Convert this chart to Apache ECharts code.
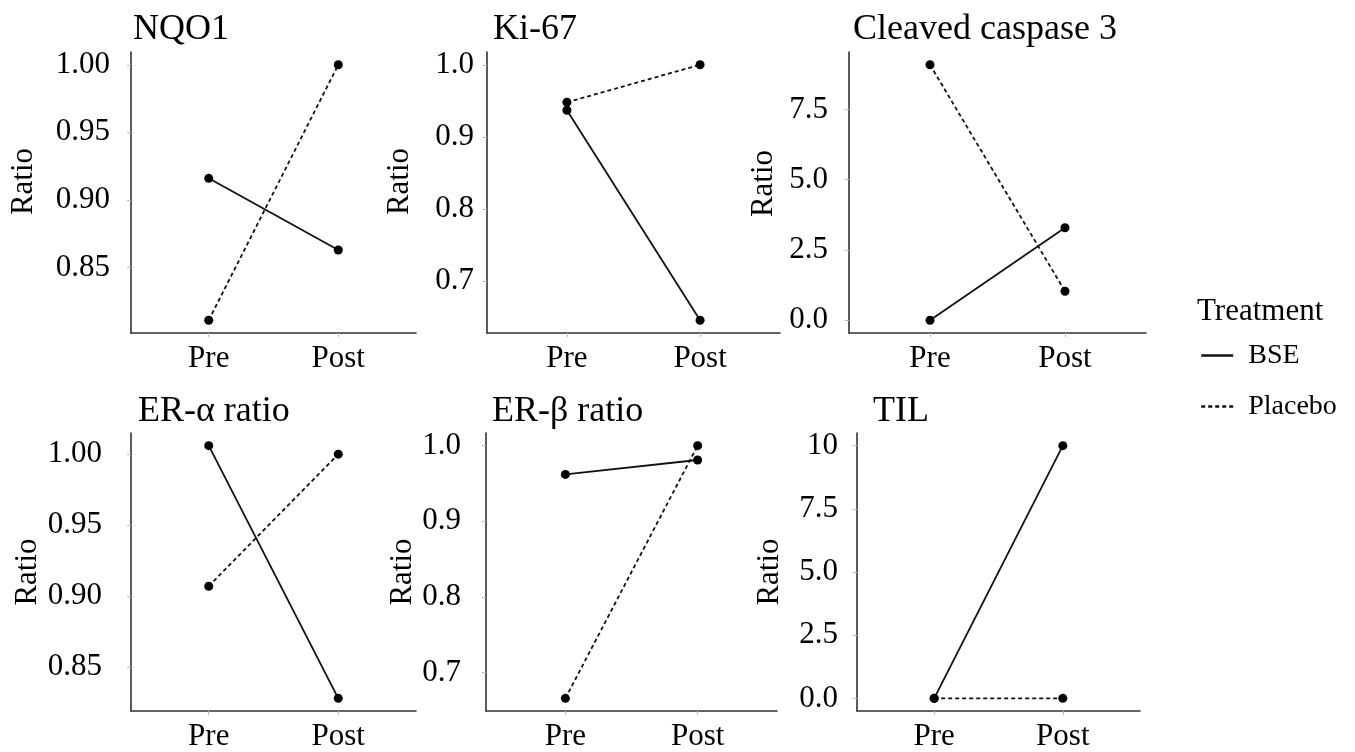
<!DOCTYPE html>
<html>
<head>
<meta charset="utf-8">
<script src="https://cdn.jsdelivr.net/npm/echarts@6/dist/echarts.min.js"></script>
<style>
html,body{margin:0;padding:0;background:#fff;}
#chart{width:1355px;height:752px;}
</style>
</head>
<body>
<div id="chart"></div>
<script>
const categories = ['Pre', 'Post'];
const panelTitles = ['NQO1', 'Ki-67', 'Cleaved caspase 3', 'ER-\u03b1 ratio', 'ER-\u03b2 ratio', 'TIL'];
const bseValues = [
  [0.916, 0.863],
  [0.937, 0.646],
  [0.0, 3.29],
  [1.006, 0.828],
  [0.962, 0.981],
  [0.0, 10.0]
];
const placeboValues = [
  [0.811, 1.0],
  [0.948, 1.0],
  [9.09, 1.03],
  [0.907, 1.0],
  [0.666, 1.0],
  [0.0, 0.0]
];
const yTickValues = [
  [0.85, 0.90, 0.95, 1.00],
  [0.7, 0.8, 0.9, 1.0],
  [0.0, 2.5, 5.0, 7.5],
  [0.85, 0.90, 0.95, 1.00],
  [0.7, 0.8, 0.9, 1.0],
  [0.0, 2.5, 5.0, 7.5, 10]
];
const yTickLabels = [
  ['0.85', '0.90', '0.95', '1.00'],
  ['0.7', '0.8', '0.9', '1.0'],
  ['0.0', '2.5', '5.0', '7.5'],
  ['0.85', '0.90', '0.95', '1.00'],
  ['0.7', '0.8', '0.9', '1.0'],
  ['0.0', '2.5', '5.0', '7.5', '10']
];
const seriesNames = ['BSE', 'Placebo'];
const legendTitle = 'Treatment';
const yAxisName = 'Ratio';

// layout (pixels)
const gridBoxes = [
  {left: 131, top: 52, width: 285, height: 281},
  {left: 487, top: 52, width: 293, height: 281},
  {left: 849, top: 52, width: 297, height: 281},
  {left: 131, top: 433, width: 285, height: 282},
  {left: 486, top: 433, width: 291, height: 282},
  {left: 857, top: 433, width: 283, height: 282}
];
const titlePos = [
  {left: 133, top: 12}, {left: 493, top: 12}, {left: 853, top: 12},
  {left: 138, top: 394}, {left: 492, top: 394}, {left: 873, top: 394}
];
const nameGaps = [92, 72, 70, 86, 66, 72];
const namePads = [[0, 0, 0, 22], [0, 0, 0, 22], [0, 0, 0, 18], [0, 0, 0, 0], [0, 0, 0, 0], [0, 0, 0, 0]];
const labelMargins = [21, 13, 21, 29, 25, 19];

const FONT = 'Liberation Serif';
const axisColor = '#333';

const grids = [], xAxes = [], yAxes = [], series = [], titles = [];
panelTitles.forEach((t, i) => {
  grids.push(Object.assign({}, gridBoxes[i]));
  titles.push({
    text: t, left: titlePos[i].left, top: titlePos[i].top, padding: 0,
    textStyle: {fontFamily: FONT, fontSize: 36, fontWeight: 'normal', color: '#000'}
  });
  const all = bseValues[i].concat(placeboValues[i]);
  const lo = Math.min.apply(null, all), hi = Math.max.apply(null, all);
  const pad = (hi - lo) * 0.05;
  xAxes.push({
    type: 'value', gridIndex: i, min: 0.4, max: 2.6,
    splitLine: {show: false},
    axisLine: {show: true, onZero: false, lineStyle: {color: axisColor, width: 1.6}},
    axisTick: {show: true, customValues: [1, 2], length: 4, lineStyle: {color: '#bbb', width: 1}},
    axisLabel: {
      customValues: [1, 2], margin: 10,
      formatter: v => categories[Math.round(v) - 1] || '',
      fontFamily: FONT, fontSize: 31, color: '#000'
    }
  });
  const tv = yTickValues[i], tl = yTickLabels[i];
  yAxes.push({
    type: 'value', gridIndex: i, min: lo - pad, max: hi + pad,
    splitLine: {show: false},
    name: yAxisName, nameLocation: 'middle', nameGap: nameGaps[i], nameRotate: 90,
    nameTextStyle: {fontFamily: FONT, fontSize: 31, color: '#000', padding: namePads[i]},
    axisLine: {show: true, onZero: false, lineStyle: {color: axisColor, width: 1.6}},
    axisTick: {show: true, customValues: tv, length: 4, lineStyle: {color: '#bbb', width: 1}},
    axisLabel: {
      customValues: tv, margin: labelMargins[i],
      formatter: v => {
        for (let k = 0; k < tv.length; k++) if (Math.abs(tv[k] - v) < 1e-9) return tl[k];
        return '';
      },
      fontFamily: FONT, fontSize: 31, color: '#000'
    }
  });
  [bseValues[i], placeboValues[i]].forEach((vals, s) => {
    series.push({
      name: seriesNames[s], type: 'line', xAxisIndex: i, yAxisIndex: i,
      data: vals.map((v, k) => [k + 1, v]),
      symbol: 'circle', symbolSize: 9, color: '#000',
      itemStyle: {color: '#000'},
      lineStyle: {color: '#111', width: 1.8, type: s === 0 ? 'solid' : [4, 3]},
      animation: false, silent: true, z: s === 0 ? 3 : 2
    });
  });
});

titles.push({
  text: legendTitle, left: 1197, top: 296, padding: 0,
  textStyle: {fontFamily: FONT, fontSize: 31, fontWeight: 'normal', color: '#000'}
});

const chart = echarts.init(document.getElementById('chart'), null, {renderer: 'canvas'});
chart.setOption({
  animation: false,
  backgroundColor: '#fff',
  title: titles,
  grid: grids,
  xAxis: xAxes,
  yAxis: yAxes,
  legend: {
    data: seriesNames,
    orient: 'vertical', left: 1200, top: 340, padding: 0,
    itemWidth: 32, itemHeight: 14, itemGap: 20,
    itemStyle: {opacity: 0},
    lineStyle: {width: 2.4},
    textStyle: {fontFamily: FONT, fontSize: 28, color: '#000', lineHeight: 31, padding: [0, 0, 0, 10]},
    selectedMode: false
  },
  series: series
});
</script>
</body>
</html>
